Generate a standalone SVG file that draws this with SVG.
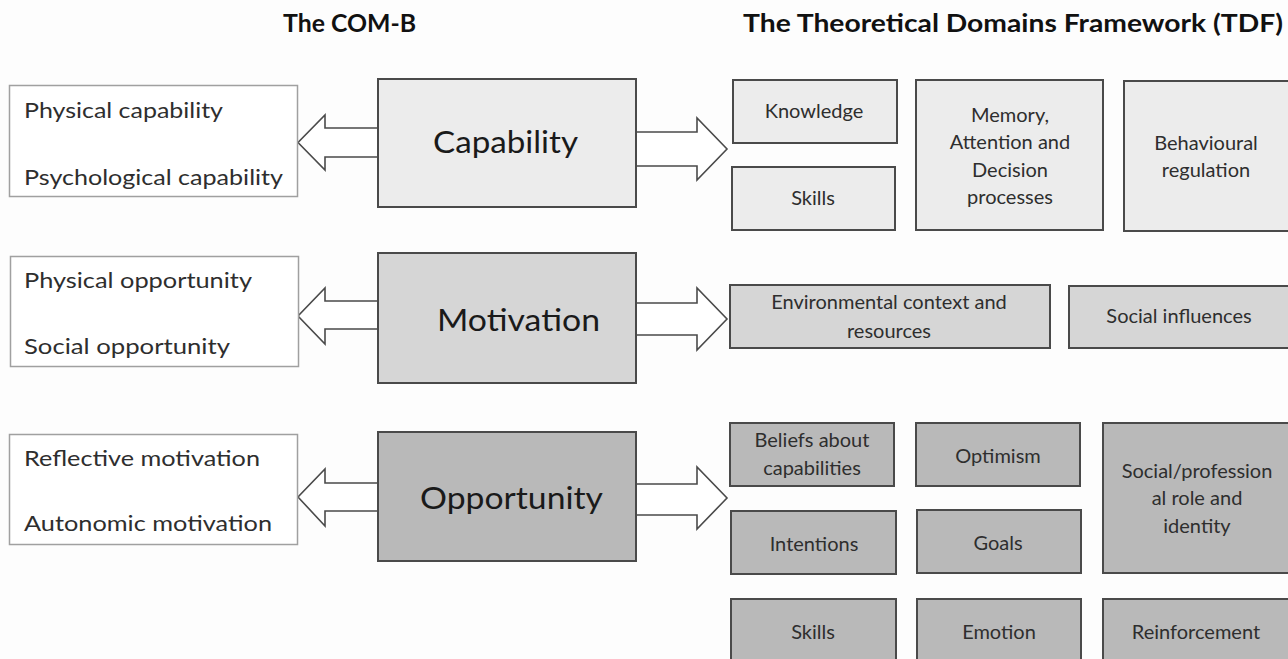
<svg xmlns="http://www.w3.org/2000/svg" width="1288" height="659" viewBox="0 0 1288 659">
  <style>
    text { font-family: Lato, "Open Sans", "Liberation Sans", sans-serif; fill: #222; }
    .title { font-size: 25px; font-weight: bold; fill: #111; }
    .list { font-size: 22px; fill: #2e2e2e; }
    .com { font-size: 31px; fill: #1a1a1a; text-anchor: middle; }
    .tdf { font-size: 20px; fill: #2e2e2e; text-anchor: middle; }
    .listbox { fill: #ffffff; stroke: #a0a0a0; stroke-width: 1.5; }
    .box { stroke: #4a4a4a; stroke-width: 2; }
    .c1 { fill: #ececec; }
    .c2 { fill: #d6d6d6; }
    .c3 { fill: #b9b9b9; }
    .arrow { fill: #ffffff; stroke: #4a4a4a; stroke-width: 1.6; stroke-linejoin: miter; }
  </style>
  <rect width="1288" height="659" fill="#fdfdfd"/>

  <!-- column headings -->
  <text class="title" x="283" y="32" textLength="133" lengthAdjust="spacingAndGlyphs">The COM-B</text>
  <text class="title" x="743" y="32" textLength="540" lengthAdjust="spacingAndGlyphs">The Theoretical Domains Framework (TDF)</text>

  <!-- connectors: hollow block arrows -->
  <g id="connectors">
    <polygon class="arrow" points="378,128 325,128 325,115 298,142.5 325,170 325,157 378,157"/>
    <polygon class="arrow" points="636,132 697,132 697,118 727,149 697,180 697,166 636,166"/>
    <polygon class="arrow" points="378,301 325,301 325,288 298,316 325,344 325,329 378,329"/>
    <polygon class="arrow" points="636,303 697,303 697,288 727,319 697,350 697,335 636,335"/>
    <polygon class="arrow" points="378,483 325,483 325,469 298,497 325,526 325,511 378,511"/>
    <polygon class="arrow" points="636,484 697,484 697,467 727,498 697,529 697,515 636,515"/>
  </g>

  <!-- COM-B sub-components -->
  <g id="capability-list">
    <rect class="listbox" x="9.5" y="85.5" width="288" height="111"/>
    <text class="list" x="24" y="118" textLength="199" lengthAdjust="spacingAndGlyphs">Physical capability</text>
    <text class="list" x="24" y="185" textLength="259" lengthAdjust="spacingAndGlyphs">Psychological capability</text>
  </g>
  <g id="motivation-list">
    <rect class="listbox" x="10.5" y="256.5" width="288" height="110"/>
    <text class="list" x="24" y="288" textLength="228" lengthAdjust="spacingAndGlyphs">Physical opportunity</text>
    <text class="list" x="24" y="354" textLength="206" lengthAdjust="spacingAndGlyphs">Social opportunity</text>
  </g>
  <g id="opportunity-list">
    <rect class="listbox" x="9.5" y="434.5" width="288" height="110"/>
    <text class="list" x="24" y="466" textLength="236" lengthAdjust="spacingAndGlyphs">Reflective motivation</text>
    <text class="list" x="24" y="531" textLength="248" lengthAdjust="spacingAndGlyphs">Autonomic motivation</text>
  </g>

  <!-- COM-B components -->
  <g id="capability">
    <rect class="box c1" x="378" y="79" width="258" height="128"/>
    <text class="com" x="505.5" y="153" textLength="145" lengthAdjust="spacingAndGlyphs">Capability</text>
  </g>
  <g id="motivation">
    <rect class="box c2" x="378" y="253" width="258" height="130"/>
    <text class="com" x="518.5" y="331" textLength="163" lengthAdjust="spacingAndGlyphs">Motivation</text>
  </g>
  <g id="opportunity">
    <rect class="box c3" x="378" y="432" width="258" height="129"/>
    <text class="com" x="511.5" y="509" textLength="183" lengthAdjust="spacingAndGlyphs">Opportunity</text>
  </g>

  <!-- TDF domains: capability -->
  <g id="tdf-knowledge">
    <rect class="box c1" x="733" y="80" width="164" height="63"/>
    <text class="tdf" x="814" y="118">Knowledge</text>
  </g>
  <g id="tdf-skills-1">
    <rect class="box c1" x="732" y="167" width="163" height="63"/>
    <text class="tdf" x="813" y="205">Skills</text>
  </g>
  <g id="tdf-memory">
    <rect class="box c1" x="916" y="80" width="187" height="150"/>
    <text class="tdf" x="1010" y="122">Memory,</text>
    <text class="tdf" x="1010" y="149">Attention and</text>
    <text class="tdf" x="1010" y="177">Decision</text>
    <text class="tdf" x="1010" y="204">processes</text>
  </g>
  <g id="tdf-behavioural-regulation">
    <rect class="box c1" x="1124" y="81" width="170" height="150"/>
    <text class="tdf" x="1206" y="150">Behavioural</text>
    <text class="tdf" x="1206" y="177">regulation</text>
  </g>

  <!-- TDF domains: motivation row -->
  <g id="tdf-environment">
    <rect class="box c2" x="730" y="285" width="320" height="63"/>
    <text class="tdf" x="889" y="309">Environmental context and</text>
    <text class="tdf" x="889" y="338">resources</text>
  </g>
  <g id="tdf-social-influences">
    <rect class="box c2" x="1069" y="286" width="225" height="62"/>
    <text class="tdf" x="1179" y="323">Social influences</text>
  </g>

  <!-- TDF domains: opportunity row -->
  <g id="tdf-beliefs">
    <rect class="box c3" x="730" y="423" width="164" height="63"/>
    <text class="tdf" x="812" y="447">Beliefs about</text>
    <text class="tdf" x="812" y="475">capabilities</text>
  </g>
  <g id="tdf-optimism">
    <rect class="box c3" x="916" y="423" width="164" height="63"/>
    <text class="tdf" x="998" y="463">Optimism</text>
  </g>
  <g id="tdf-role-identity">
    <rect class="box c3" x="1103" y="423" width="191" height="150"/>
    <text class="tdf" x="1197" y="478">Social/profession</text>
    <text class="tdf" x="1197" y="505">al role and</text>
    <text class="tdf" x="1197" y="533">identity</text>
  </g>
  <g id="tdf-intentions">
    <rect class="box c3" x="731" y="511" width="165" height="63"/>
    <text class="tdf" x="814" y="551">Intentions</text>
  </g>
  <g id="tdf-goals">
    <rect class="box c3" x="917" y="510" width="164" height="63"/>
    <text class="tdf" x="998" y="550">Goals</text>
  </g>
  <g id="tdf-skills-2">
    <rect class="box c3" x="731" y="599" width="165" height="70"/>
    <text class="tdf" x="813" y="639">Skills</text>
  </g>
  <g id="tdf-emotion">
    <rect class="box c3" x="917" y="599" width="164" height="70"/>
    <text class="tdf" x="999" y="639">Emotion</text>
  </g>
  <g id="tdf-reinforcement">
    <rect class="box c3" x="1103" y="599" width="191" height="70"/>
    <text class="tdf" x="1196" y="639">Reinforcement</text>
  </g>
</svg>
